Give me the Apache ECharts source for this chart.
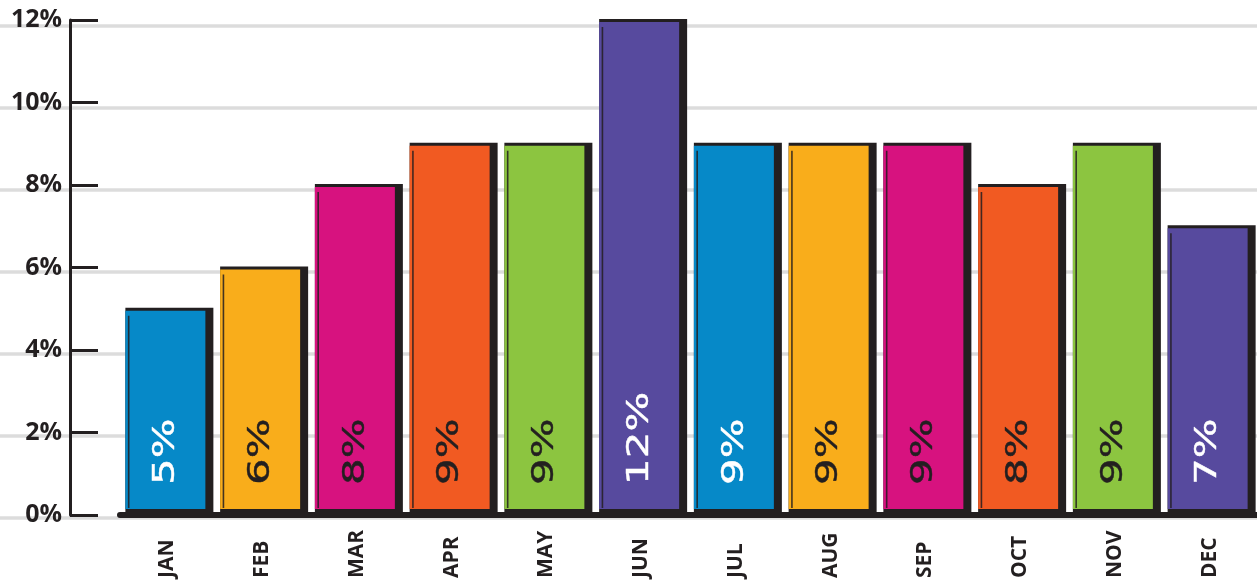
<!DOCTYPE html>
<html>
<head>
<meta charset="utf-8">
<script src="https://cdn.jsdelivr.net/npm/echarts@6/dist/echarts.min.js"></script>
<style>
  html, body { margin: 0; padding: 0; background: #ffffff; }
  #chart { width: 1257px; height: 581px; }
</style>
</head>
<body>
<div id="chart"></div>
<script>
// Monthly share, in percent
const months = ['JAN', 'FEB', 'MAR', 'APR', 'MAY', 'JUN', 'JUL', 'AUG', 'SEP', 'OCT', 'NOV', 'DEC'];
const shares = [5, 6, 8, 9, 9, 12, 9, 9, 9, 8, 9, 7];
const yMin = 0;
const yMax = 12;
const yStep = 2;

// Six-colour cycle for the bars and the ink used for the value written inside each
const palette = ['#0689c8', '#f9ad1b', '#d7127f', '#f15a22', '#8cc540', '#574a9e'];
const labelInk = ['#ffffff', '#231f20', '#231f20', '#231f20', '#231f20', '#ffffff'];

const INK = '#231f20';

const chart = echarts.init(document.getElementById('chart'), null, { renderer: 'canvas' });

// Each bar: a black slab (heavy right edge and foot), the coloured face on top,
// a thin inked stroke down the left side, and the value written upward inside.
function renderBar(params, api) {
  const idx = params.dataIndex;
  const cat = api.value(0);
  const v = api.value(1);
  const top = api.coord([cat, v]);
  const base = api.coord([cat, 0]);
  const cx = top[0];
  const ty = top[1];
  const by = base[1];
  const h = by - ty;
  const ink = labelInk[idx % labelInk.length];
  return {
    type: 'group',
    children: [
      { type: 'rect', shape: { x: cx - 42, y: ty - 1, width: 88, height: h + 1 }, style: { fill: INK } },
      { type: 'rect', shape: { x: cx - 42, y: ty + 2, width: 80, height: h - 8 },
        style: { fill: palette[idx % palette.length] } },
      { type: 'rect', shape: { x: cx - 39.5, y: ty + 7, width: 1.6, height: h - 14 }, style: { fill: INK, opacity: 0.85 } },
      {
        type: 'text',
        x: cx - 1,
        y: by - 30,
        rotation: Math.PI / 2,
        scaleX: 1.4,
        style: {
          text: v + '%',
          fill: ink,
          stroke: ink,
          lineWidth: 0.4,
          fontFamily: 'DejaVu Sans',
          fontSize: 30,
          align: 'left',
          verticalAlign: 'middle'
        }
      }
    ]
  };
}

chart.setOption({
  backgroundColor: '#ffffff',
  animation: false,
  grid: [
    // full-width backdrop carrying the faint horizontal rules
    { left: 0, right: 0, top: 26, bottom: 63, outerBoundsMode: 'none', containLabel: false },
    // plotting area for the bars
    { left: 120, right: 0, top: 20, bottom: 66, outerBoundsMode: 'none', containLabel: false }
  ],
  xAxis: [
    { gridIndex: 0, type: 'value', min: 0, max: 1, show: false },
    {
      gridIndex: 1,
      type: 'category',
      data: months,
      axisLine: { show: true, lineStyle: { color: INK, width: 6 } },
      axisTick: { show: false },
      axisLabel: {
        rotate: 90,
        margin: 63,
        align: 'left',
        verticalAlign: 'middle',
        color: INK,
        fontFamily: 'Open Sans',
        fontWeight: 'bold',
        fontSize: 21
      }
    }
  ],
  yAxis: [
    {
      gridIndex: 0,
      type: 'value',
      min: yMin, max: yMax, interval: yStep,
      axisLine: { show: false },
      axisTick: { show: false },
      axisLabel: { show: false },
      splitLine: { show: true, lineStyle: { color: '#dcdcdc', width: 3.5 } }
    },
    {
      gridIndex: 1,
      type: 'value',
      min: yMin, max: yMax, interval: yStep,
      offset: 50,
      axisLine: { show: true, lineStyle: { color: INK, width: 3 } },
      axisTick: { show: true, inside: true, length: 28, lineStyle: { color: INK, width: 3 } },
      axisLabel: {
        formatter: '{value}%',
        margin: 8,
        color: INK,
        fontFamily: 'Open Sans',
        fontWeight: 'bold',
        fontSize: 25
      },
      splitLine: { show: false }
    }
  ],
  series: [
    {
      type: 'scatter',
      xAxisIndex: 0,
      yAxisIndex: 0,
      data: [],
      silent: true
    },
    {
      type: 'custom',
      xAxisIndex: 1,
      yAxisIndex: 1,
      data: shares.map((v, i) => [i, v]),
      encode: { x: 0, y: 1 },
      renderItem: renderBar
    }
  ]
});
</script>
</body>
</html>
